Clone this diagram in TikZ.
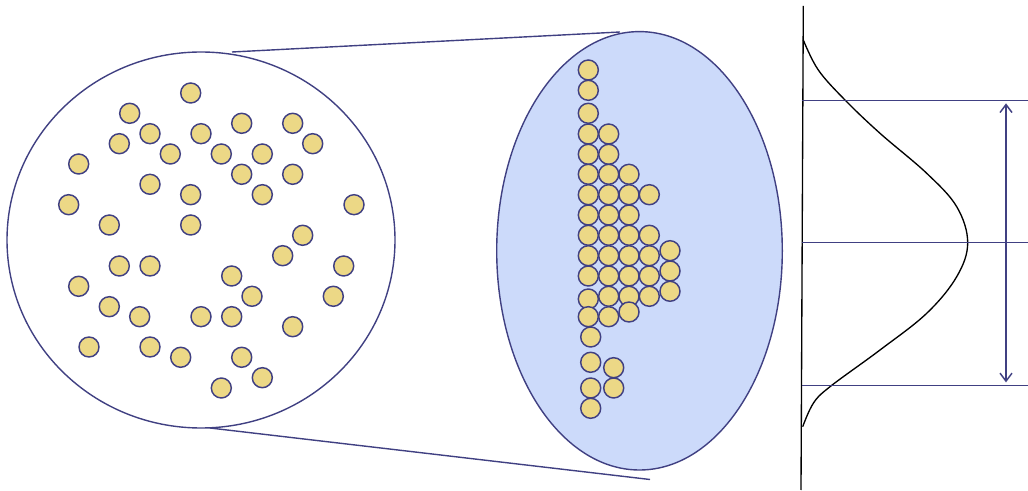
\documentclass[tikz,border=0pt]{standalone}
\usetikzlibrary{arrows.meta}
\definecolor{rim}{RGB}{64,64,130}
\definecolor{bead}{RGB}{236,216,134}
\definecolor{lensblue}{RGB}{204,218,250}
\tikzset{
  outline/.style={draw=rim, line width=1.05pt},
  beadstyle/.style={draw=rim, fill=bead, line width=1.1pt},
  level/.style={draw=rim, line width=1.1pt},
}
\begin{document}
\begin{tikzpicture}[x=0.75pt,y=-0.75pt]
  \useasboundingbox (0,0) rectangle (1028,491);
  % end points of the zoom lines
  \coordinate (sampletop) at (232,52);
  \coordinate (samplebot) at (210,428);
  \coordinate (lenstop) at (620,32);
  \coordinate (lensbot) at (650,479.5);
  \draw[outline] (sampletop) -- (lenstop);
  \draw[outline] (samplebot) -- (lensbot);
  % scattered sample
  \draw[outline, fill=white] (201,240) ellipse[x radius=145.5pt, y radius=141pt];
  \foreach \x/\y in {190.7/93, 129.7/113.3, 150/133.7, 119.3/143.7, 201/133.7, 241.7/123.3,
      292.7/123.3, 312.7/143.7, 170.3/154, 221.3/154, 262.3/154, 78.7/164, 241.7/174.3,
      292.7/174.3, 150/184.3, 190.7/194.7, 262.3/194.7, 68.7/204.7, 354/204.7, 109.3/225,
      190.7/225, 302.7/235.3, 282.7/255.7, 119.3/266, 150/266, 343.7/266, 231.7/276,
      78.7/286.3, 252/296.3, 333.3/296.3, 109.3/306.7, 139.7/316.7, 201/316.7, 231.7/316.7,
      292.7/326.7, 89/347, 150/347, 180.7/357.3, 241.7/357.3, 262.3/377.7, 221.3/388}
    \draw[beadstyle] (\x,\y) circle[radius=7.5pt];
  % sorted sample
  \draw[outline, fill=lensblue] (639.5,250.8) ellipse[x radius=107.1pt, y radius=164.4pt];
  \foreach \x/\y in {588.3/70, 588.3/90.3, 588.3/113.3, 588.3/134, 608.7/134,
      588.3/154.3, 608.7/154.3, 588.3/174.3, 608.7/174.3, 629/174.3,
      588.3/194.7, 608.7/194.7, 629/194.7, 649.3/194.7, 588.3/215, 608.7/215, 629/215,
      588.3/235.3, 608.7/235.3, 629/235.3, 649.3/235.3, 670/250.7,
      588.3/255.7, 608.7/255.7, 629/255.7, 649.3/255.7, 670/271,
      588.3/276, 608.7/276, 629/276, 649.3/276, 670/291.3,
      608.7/296.3, 629/296.3, 649.3/296.3, 588.3/299, 629/312,
      588.3/316.7, 608.7/316.7, 590.7/337, 590.7/362.3, 613.7/367.7,
      590.7/388, 613.7/388, 590.7/408.3}
    \draw[beadstyle] (\x,\y) circle[radius=7.5pt];
  % distribution
  \draw[line width=1pt] (803.3,6) -- (801,490);
  \draw[line width=1pt] plot[smooth, tension=0.6] coordinates {(803.3,40) (818.3,70) (845,100)
      (880,133.3) (926.7,173.3) (956.7,206.7) (967.7,242.7) (956.7,276.7) (926.7,313.3)
      (880,350) (830,386.7) (813.3,403.3) (802.7,426.7)};
  \coordinate (upper) at (1006,100);
  \coordinate (lower) at (1006,385.7);
  \draw[level] (801.7,100.5) -- (1028,100.5);
  \draw[level] (801.7,242.7) -- (1028,242.7);
  \draw[level] (801.7,385.7) -- (1028,385.7);
  \draw[level, {Straight Barb[length=6pt,width=9pt]}-{Straight Barb[length=6pt,width=9pt]}]
    ([yshift=-2.5pt]upper) -- ([yshift=2.5pt]lower);
\end{tikzpicture}
\end{document}
